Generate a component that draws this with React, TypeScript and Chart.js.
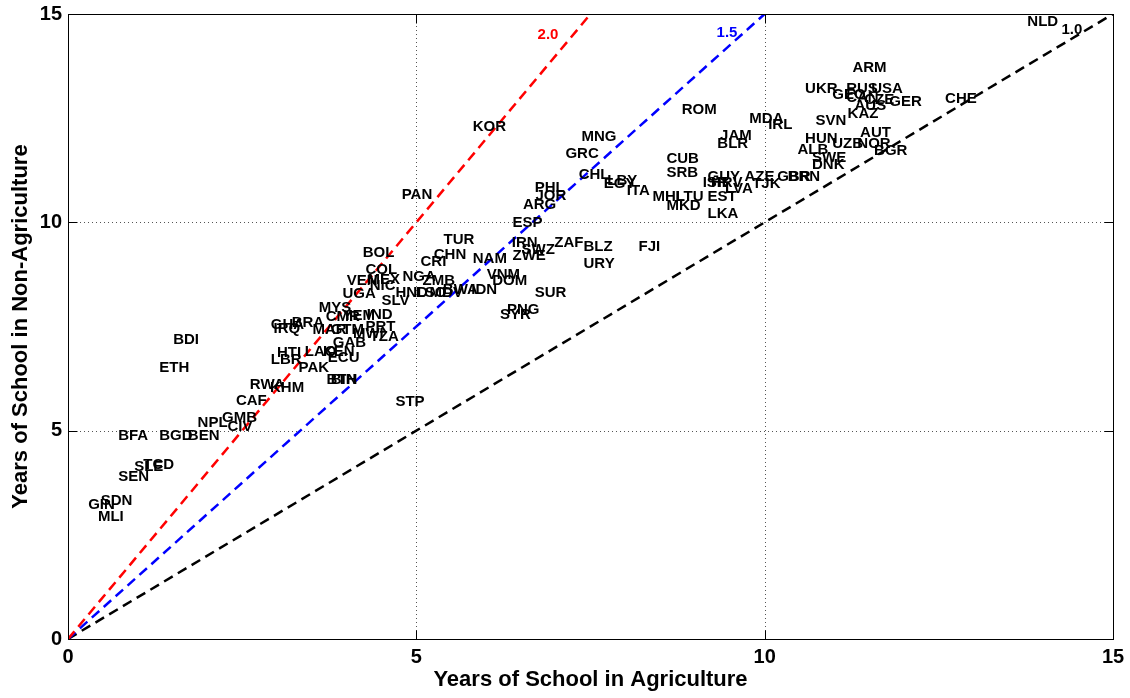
import React, { useEffect, useRef } from "react";
import { Chart, registerables } from "chart.js";

Chart.register(...registerables);

const countries = [
  "NLD", "ARM", "UKR", "RUS", "USA", "GEO", "CAN", "CZE", "GER", "AUS", "KAZ", "CHE", "SVN", "AUT", "HUN", "UZB", "NOR", "BGR", "ALB", "SWE", "DNK",
  "ROM", "MDA", "IRL", "JAM", "BLR", "CUB", "SRB", "GUY", "AZE", "GBR", "BRN", "ISR", "HRV", "LVA", "TJK", "EST", "LKA", "MHL", "LTU", "MKD", "ITA", "EGY", "LBY",
  "CHL", "GRC", "MNG", "KOR", "PHL", "JOR", "ARG", "ESP", "PAN", "TUR", "CHN", "CRI", "NAM", "IRN", "SWZ", "ZWE", "ZAF", "BLZ", "URY", "FJI", "VNM", "DOM", "IDN", "SUR", "PNG", "SYR",
  "BOL", "COL", "VEN", "MEX", "NIC", "NGA", "ZMB", "UGA", "HND", "LSO", "MDV", "BWA", "SLV", "IND", "MYS", "CMR", "YEM", "BRA", "GHA", "IRQ", "MAR", "GTM", "PRT", "MWI", "TZA", "GAB",
  "HTI", "LBR", "LAO", "KEN", "ECU", "PAK", "BTN", "BIH", "BDI", "ETH", "RWA", "KHM", "CAF", "GMB", "NPL", "CIV", "BFA", "BGD", "BEN", "TCD", "SLE", "SEN", "SDN", "GIN", "MLI", "STP",
];

const agriYears = [
  13.77, 11.26, 10.58, 11.17, 11.53, 10.97, 11.17, 11.43, 11.79, 11.29, 11.19, 12.59, 10.73, 11.37, 10.58, 10.97, 11.33, 11.57, 10.47, 10.68, 10.68,
  8.81, 9.78, 10.05, 9.36, 9.32, 8.59, 8.59, 9.18, 9.71, 10.18, 10.33, 9.11, 9.23, 9.43, 9.82, 9.18, 9.18, 8.39, 8.72, 8.59, 8.02, 7.69, 7.74,
  7.33, 7.14, 7.37, 5.81, 6.70, 6.71, 6.53, 6.38, 4.79, 5.39, 5.25, 5.06, 5.81, 6.37, 6.51, 6.38, 6.98, 7.40, 7.40, 8.19, 6.01, 6.09, 5.79, 6.70, 6.30, 6.20,
  4.23, 4.27, 4.00, 4.30, 4.33, 4.80, 5.09, 3.94, 4.70, 4.99, 5.19, 5.38, 4.50, 4.29, 3.60, 3.70, 3.94, 3.21, 2.91, 2.95, 3.51, 3.77, 4.27, 4.09, 4.33, 3.80,
  3.00, 2.91, 3.40, 3.66, 3.73, 3.31, 3.71, 3.77, 1.51, 1.31, 2.61, 2.90, 2.41, 2.21, 1.86, 2.29, 0.72, 1.31, 1.72, 1.08, 0.95, 0.72, 0.47, 0.29, 0.43, 4.70,
];

const nonAgriYears = [
  14.81, 13.70, 13.20, 13.20, 13.20, 13.06, 12.98, 12.94, 12.89, 12.79, 12.60, 12.96, 12.43, 12.14, 12.00, 11.88, 11.88, 11.71, 11.74, 11.54, 11.38,
  12.70, 12.48, 12.34, 12.07, 11.88, 11.52, 11.18, 11.09, 11.09, 11.09, 11.09, 10.94, 10.94, 10.80, 10.92, 10.61, 10.20, 10.61, 10.61, 10.39, 10.75, 10.92, 10.99,
  11.14, 11.64, 12.05, 12.29, 10.82, 10.63, 10.42, 9.98, 10.66, 9.58, 9.22, 9.05, 9.12, 9.50, 9.34, 9.19, 9.50, 9.41, 9.00, 9.41, 8.74, 8.59, 8.38, 8.30, 7.90, 7.78,
  9.26, 8.86, 8.59, 8.62, 8.47, 8.69, 8.59, 8.28, 8.30, 8.30, 8.30, 8.38, 8.11, 7.78, 7.94, 7.73, 7.75, 7.58, 7.54, 7.44, 7.42, 7.42, 7.49, 7.32, 7.25, 7.10,
  6.86, 6.70, 6.89, 6.89, 6.74, 6.50, 6.22, 6.22, 7.18, 6.50, 6.10, 6.02, 5.71, 5.30, 5.18, 5.09, 4.87, 4.87, 4.87, 4.18, 4.13, 3.89, 3.31, 3.22, 2.93, 5.69,
];

const slopes = [2.0, 1.5, 1.0];
const lineEndX = [7.5, 10, 15];
const lineColors = ["#ff0000", "#0000ff", "#000000"];
const lineLabels = ["2.0", "1.5", "1.0"];
const lineLabelX = [6.74, 9.31, 14.26];
const lineLabelY = [14.5, 14.54, 14.62];
const tickValues = [0, 5, 10, 15];

const FONT = "'Liberation Sans', Arial, Helvetica, sans-serif";

const framePlugin = {
  id: "frame",
  beforeDatasetsDraw(chart: any) {
    const { ctx, chartArea, scales } = chart;
    const { left, right, top, bottom } = chartArea;
    const x = scales.x;
    const y = scales.y;
    ctx.save();
    ctx.strokeStyle = "#555";
    ctx.lineWidth = 1;
    ctx.setLineDash([1, 3]);
    for (const v of tickValues) {
      if (v === tickValues[0] || v === tickValues[tickValues.length - 1]) continue;
      const px = Math.round(x.getPixelForValue(v)) + 0.5;
      ctx.beginPath();
      ctx.moveTo(px, top);
      ctx.lineTo(px, bottom);
      ctx.stroke();
      const py = Math.round(y.getPixelForValue(v)) + 0.5;
      ctx.beginPath();
      ctx.moveTo(left, py);
      ctx.lineTo(right, py);
      ctx.stroke();
    }
    ctx.restore();
  },
  afterDatasetsDraw(chart: any) {
    const { ctx, chartArea, scales } = chart;
    const { left, right, top, bottom } = chartArea;
    const x = scales.x;
    const y = scales.y;
    const meta = chart.getDatasetMeta(0);
    ctx.save();
    ctx.font = `bold 15px ${FONT}`;
    ctx.textAlign = "left";
    ctx.textBaseline = "middle";
    ctx.fillStyle = "#000";
    meta.data.forEach((pt: any, i: number) => {
      ctx.fillText(countries[i], pt.x, pt.y);
    });
    lineLabels.forEach((t, i) => {
      ctx.fillStyle = lineColors[i];
      ctx.fillText(t, x.getPixelForValue(lineLabelX[i]), y.getPixelForValue(lineLabelY[i]));
    });
    ctx.restore();
    ctx.save();
    ctx.strokeStyle = "#000";
    ctx.lineWidth = 1;
    ctx.setLineDash([]);
    const L = Math.round(left) + 0.5;
    const R = Math.round(right) + 0.5;
    const T = Math.round(top) + 0.5;
    const B = Math.round(bottom) + 0.5;
    ctx.strokeRect(L, T, R - L, B - T);
    const tl = 9;
    ctx.beginPath();
    for (const v of tickValues) {
      const px = Math.round(x.getPixelForValue(v)) + 0.5;
      ctx.moveTo(px, B);
      ctx.lineTo(px, B - tl);
      ctx.moveTo(px, T);
      ctx.lineTo(px, T + tl);
      const py = Math.round(y.getPixelForValue(v)) + 0.5;
      ctx.moveTo(L, py);
      ctx.lineTo(L + tl, py);
      ctx.moveTo(R, py);
      ctx.lineTo(R - tl, py);
    }
    ctx.stroke();
    ctx.restore();
  },
};

export default function App() {
  const canvasRef = useRef<HTMLCanvasElement | null>(null);

  useEffect(() => {
    document.body.style.margin = "0";
    const canvas = canvasRef.current;
    if (!canvas) return;

    const scatterData = countries.map((_, i) => ({ x: agriYears[i], y: nonAgriYears[i] }));
    const lineSets = slopes.map((s, i) => ({
      type: "line" as const,
      label: lineLabels[i],
      data: [
        { x: 0, y: 0 },
        { x: lineEndX[i], y: s * lineEndX[i] },
      ],
      borderColor: lineColors[i],
      borderWidth: 2.5,
      borderDash: [10, 6],
      pointRadius: 0,
      fill: false,
      showLine: true,
      tension: 0,
    }));

    const chart = new Chart(canvas, {
      type: "scatter",
      data: {
        datasets: [
          {
            label: "countries",
            data: scatterData,
            pointRadius: 0,
            pointHoverRadius: 0,
          },
          ...lineSets,
        ] as any,
      },
      options: {
        animation: false,
        responsive: false,
        maintainAspectRatio: false,
        events: [],
        layout: { padding: { top: 14, right: 17, left: 0, bottom: 0 } },
        plugins: {
          legend: { display: false },
          tooltip: { enabled: false },
        },
        scales: {
          x: {
            type: "linear",
            min: 0,
            max: 15,
            afterFit: (scale: any) => {
              scale.height = 59;
              scale.paddingLeft = 0;
              scale.paddingRight = 0;
            },
            afterBuildTicks: (scale: any) => {
              scale.ticks = tickValues.map((v) => ({ value: v }));
            },
            grid: { display: false, drawTicks: false },
            border: { display: false },
            ticks: {
              padding: 6,
              color: "#000",
              font: { family: FONT, size: 20, weight: "bold" },
              maxRotation: 0,
            },
            title: {
              display: true,
              text: "Years of School in Agriculture",
              color: "#000",
              font: { family: FONT, size: 22, weight: "bold" },
              padding: { top: 0, bottom: 5 },
            },
          },
          y: {
            type: "linear",
            min: 0,
            max: 15,
            afterFit: (scale: any) => {
              scale.width = 68;
              scale.paddingTop = 0;
              scale.paddingBottom = 0;
            },
            afterBuildTicks: (scale: any) => {
              scale.ticks = tickValues.map((v) => ({ value: v }));
            },
            grid: { display: false, drawTicks: false },
            border: { display: false },
            ticks: {
              padding: 6,
              color: "#000",
              font: { family: FONT, size: 20, weight: "bold" },
            },
            title: {
              display: true,
              text: "Years of School in Non-Agriculture",
              color: "#000",
              font: { family: FONT, size: 22, weight: "bold" },
              padding: { top: 8, bottom: 0 },
            },
          },
        },
      } as any,
      plugins: [framePlugin],
    });

    return () => {
      chart.destroy();
    };
  }, []);

  return (
    <div style={{ width: 1130, height: 698 }}>
      <canvas ref={canvasRef} width={1130} height={698} style={{ display: "block" }} />
    </div>
  );
}
